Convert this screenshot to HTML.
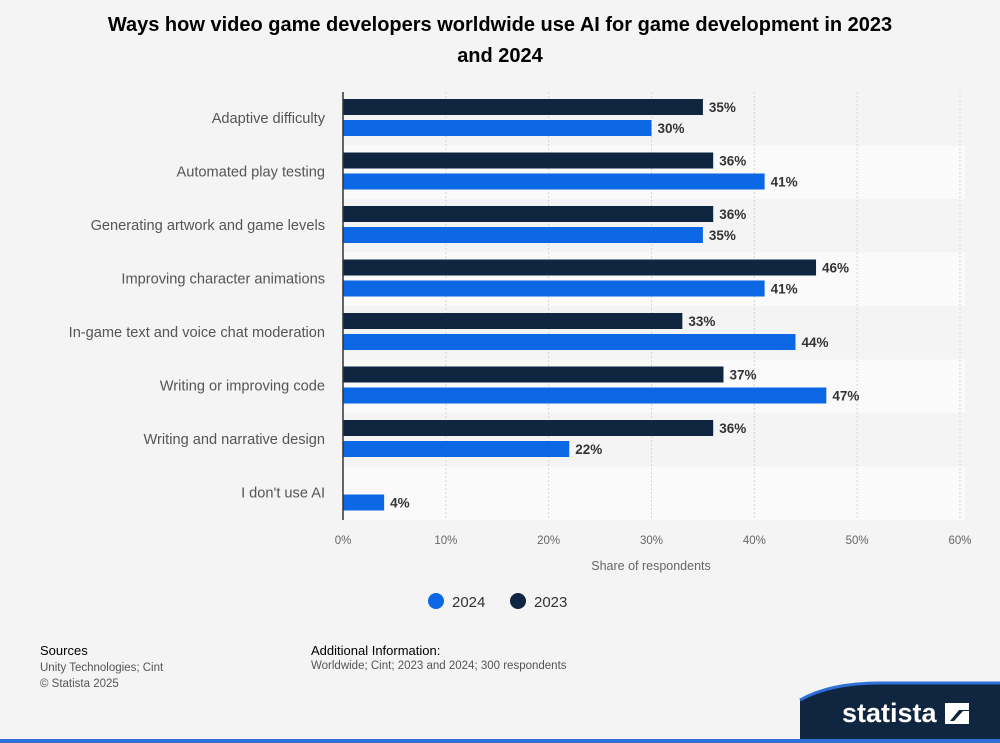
<!DOCTYPE html>
<html><head><meta charset="utf-8"><style>
body{margin:0;width:1000px;height:743px;background:#f4f4f4;font-family:"Liberation Sans",Arial,sans-serif;overflow:hidden;position:relative}
.t{position:absolute}
</style></head><body>
<div class="t" style="left:0;top:10px;width:1000px;text-align:center;font-weight:bold;font-size:20px;line-height:31px;color:#000">Ways how video game developers worldwide use AI for game development in 2023<br>and 2024</div>
<svg id="chart" width="1000" height="743" style="position:absolute;left:0;top:0" xmlns="http://www.w3.org/2000/svg"></svg>
<div class="t" style="left:40px;top:643px;font-size:13px;color:#000">Sources</div>
<div class="t" style="left:40px;top:660px;font-size:11.5px;color:#555;line-height:16px">Unity Technologies; Cint<br>© Statista 2025</div>
<div class="t" style="left:311px;top:643px;font-size:13px;color:#000">Additional Information:</div>
<div class="t" style="left:311px;top:660px;font-size:11.5px;color:#555">Worldwide; Cint; 2023 and 2024; 300 respondents</div>
<svg width="1000" height="743" style="position:absolute;left:0;top:0">
<path d="M800,743 L800,700 Q830,683 880,683 L1000,683 L1000,743 Z" fill="#0f2540"/>
<path d="M800,700 Q830,683 880,683 L1000,683" fill="none" stroke="#2f6fd8" stroke-width="3"/>
<rect x="0" y="739" width="1000" height="4" fill="#2f6fd8"/>
<text x="842" y="722" font-family="Liberation Sans, sans-serif" font-weight="bold" font-size="27" fill="#fff">statista</text>
<path d="M945,703 h24 v7 h-10 l-9,11 h-5 Z M969,724 h-24 v-3 h9 l9,-10 h6 Z" fill="#fff"/>
</svg>
<script>
const categories=["Adaptive difficulty","Automated play testing","Generating artwork and game levels","Improving character animations","In-game text and voice chat moderation","Writing or improving code","Writing and narrative design","I don't use AI"];
const values2023=[35,36,36,46,33,37,36,null];
const values2024=[30,41,35,41,44,47,22,4];
const ticks=[0,10,20,30,40,50,60];
const svg=document.getElementById('chart');
const NS="http://www.w3.org/2000/svg";
const x0=343,x1=960,plotTop=92,plotBottom=520,xmax=60;
const xs=v=>x0+(x1-x0)*v/xmax;
const band=(plotBottom-plotTop)/categories.length;
function mk(t,a,txt){const e=document.createElementNS(NS,t);for(const k in a)e.setAttribute(k,a[k]);if(txt!=null)e.textContent=txt;svg.appendChild(e);return e;}
categories.forEach((c,i)=>{
 if(i%2==1){const r=mk('rect',{x:x0,y:plotTop+i*band,width:x1-x0+5,height:band,fill:'#fafafa'});
 
 }
});
ticks.forEach(t=>{
 if(t>0){const l=mk('line',{x1:xs(t),x2:xs(t),y1:plotTop,y2:plotBottom,stroke:'#d6d6d6','stroke-dasharray':'2,2'});
 
 }
 const tx=mk('text',{x:xs(t),y:544,'text-anchor':'middle','font-size':11.5,fill:'#666'},t+'%');
 
 
});
categories.forEach((c,i)=>{
 const y=plotTop+i*band;
 const lab=mk('text',{x:325,y:y+band/2+4,'text-anchor':'end','font-size':14.6,fill:'#555'},c);
 
 
 [[values2023[i],'#0f2540',7],[values2024[i],'#0b67e3',28]].forEach(([v,col,off])=>{
  if(v==null)return;
  const b=mk('rect',{x:x0,y:y+off,width:xs(v)-x0,height:16,fill:col});
  
  
  const vt=mk('text',{x:xs(v)+6,y:y+off+13,'font-size':13.5,'font-weight':'bold',fill:'#333'},v+'%');
  
  
 });
});
const ax=mk('line',{x1:x0,x2:x0,y1:plotTop,y2:plotBottom,stroke:'#333','stroke-width':1.5});


const xt=mk('text',{x:651,y:570,'text-anchor':'middle','font-size':12.5,fill:'#666'},'Share of respondents');


[['2024','#0b67e3',436],['2023','#0f2540',518]].forEach(([n,c,x])=>{
 const d=mk('circle',{cx:x,cy:601,r:8,fill:c});
 
 
 const t=mk('text',{x:x+16,y:607,'font-size':15,fill:'#333'},n);
 
 
});
</script>
</body></html>
